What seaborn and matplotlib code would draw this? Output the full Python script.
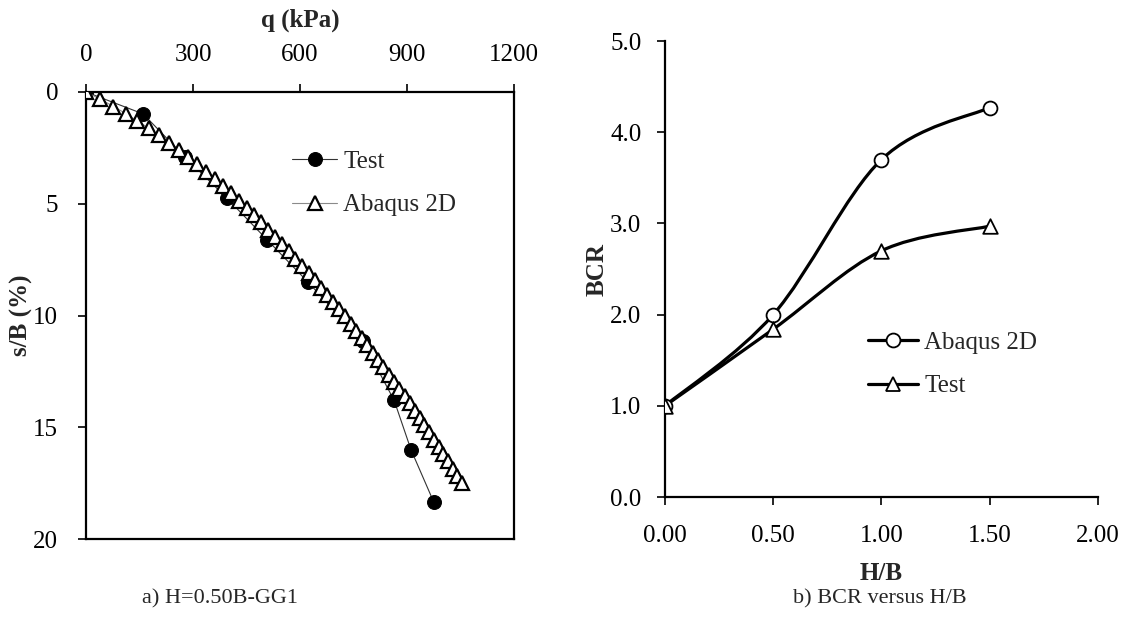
import numpy as np
import pandas as pd
import matplotlib
matplotlib.use("Agg")
import matplotlib.pyplot as plt
from matplotlib.path import Path
from matplotlib.patches import PathPatch
from matplotlib.lines import Line2D
from matplotlib.ticker import FormatStrFormatter
import seaborn as sns

# ---------------- data ----------------
# panel a) load-settlement
test_q = [0, 160, 277, 395, 507, 622, 776, 864, 911, 975]
test_s = [0, 0.98, 2.90, 4.75, 6.60, 8.50, 11.15, 13.80, 16.00, 18.35]

abaqus_q = [0, 40, 77, 112, 144, 176, 205, 233, 261, 287, 312, 337, 361, 384,
            406, 428, 450, 471, 491, 511, 531, 550, 569, 587, 606, 624, 641,
            659, 676, 692, 709, 725, 742, 758, 773, 789, 804, 819, 834, 849,
            864, 878, 893, 907, 921, 935, 948, 962, 975, 989, 1002, 1015,
            1028, 1041, 1054]
abaqus_s = [0.00, 0.32, 0.65, 0.97, 1.30, 1.62, 1.94, 2.27, 2.59, 2.92, 3.24,
            3.56, 3.89, 4.21, 4.54, 4.86, 5.18, 5.51, 5.83, 6.16, 6.48, 6.80,
            7.13, 7.45, 7.78, 8.10, 8.42, 8.75, 9.07, 9.40, 9.72, 10.04, 10.37,
            10.69, 11.02, 11.34, 11.66, 11.99, 12.31, 12.64, 12.96, 13.28,
            13.61, 13.93, 14.26, 14.58, 14.90, 15.23, 15.55, 15.88, 16.20,
            16.52, 16.85, 17.17, 17.50]

# panel b) BCR versus H/B
hb = [0.0, 0.5, 1.0, 1.5]
bcr_abaqus = [1.00, 2.00, 3.70, 4.27]
bcr_test = [1.00, 1.84, 2.70, 2.97]

q_ticks = [0, 300, 600, 900, 1200]
s_ticks = [0, 5, 10, 15, 20]
hb_ticks = [0.0, 0.5, 1.0, 1.5, 2.0]
bcr_ticks = [0.0, 1.0, 2.0, 3.0, 4.0, 5.0]

# ---------------- style ----------------
sns.set_theme(style="white")
plt.rcParams['font.family'] = ['Liberation Serif', 'DejaVu Serif']
FS = 18
CAP = 16

fig = plt.figure(figsize=(11.26, 6.25), dpi=100)
fig.patch.set_facecolor('white')

# ---------------- panel a ----------------
ax1 = fig.add_axes([0.0764, 0.1376, 0.3801, 0.7152])
df_t = pd.DataFrame({'q': test_q, 's': test_s})
df_a = pd.DataFrame({'q': abaqus_q, 's': abaqus_s})
sns.lineplot(data=df_t, x='q', y='s', sort=False, estimator=None, ax=ax1,
             color='#333333', linewidth=0.8, marker='o', markersize=10,
             markerfacecolor='black', markeredgecolor='black', label='Test',
             zorder=3)
sns.lineplot(data=df_a, x='q', y='s', sort=False, estimator=None, ax=ax1,
             color='#8a8a8a', linewidth=0.8, marker='^', markersize=9.5,
             markerfacecolor='white', markeredgecolor='black',
             markeredgewidth=1.6, label='Abaqus 2D', zorder=4)
ax1.set_xlim(0, 1200)
ax1.set_ylim(20, 0)
ax1.set_xticks(q_ticks)
ax1.set_yticks(s_ticks)
ax1.xaxis.tick_top()
ax1.xaxis.set_label_position('top')
ax1.set_xlabel('q (kPa)', fontsize=FS, fontweight='bold', labelpad=12.5)
ax1.set_ylabel('s/B (%)', fontsize=FS, fontweight='bold')
ax1.yaxis.set_label_coords(-0.124, 0.5)
ax1.tick_params(axis='both', which='major', direction='out', length=6,
                width=1.2, labelsize=FS, colors='black')
ax1.tick_params(axis='x', top=True, bottom=False, pad=13)
ax1.tick_params(axis='y', left=True, right=False, pad=14)
for sp in ax1.spines.values():
    sp.set_visible(True)
    sp.set_color('black')
    sp.set_linewidth(1.6)
ax1.grid(False)
leg1 = ax1.legend(loc='upper left', bbox_to_anchor=(292 / 1126, 1 - 150 / 625),
                  bbox_transform=fig.transFigure, frameon=False, fontsize=FS,
                  handlelength=1.8, handletextpad=0.25, labelspacing=0.85,
                  borderpad=0, borderaxespad=0)
for ln in leg1.get_lines():
    ln.set_linewidth(0.8)

# ---------------- panel b ----------------
ax2 = fig.add_axes([0.5906, 0.2048, 0.3845, 0.7296])


def smooth_path(xs, ys):
    pts = list(zip(xs, ys))
    n = len(pts)
    verts = [pts[0]]
    codes = [Path.MOVETO]
    for i in range(n - 1):
        p0 = pts[i - 1] if i > 0 else pts[i]
        p1 = pts[i]
        p2 = pts[i + 1]
        p3 = pts[i + 2] if i + 2 < n else pts[i + 1]
        c1 = (p1[0] + (p2[0] - p0[0]) / 6.0, p1[1] + (p2[1] - p0[1]) / 6.0)
        c2 = (p2[0] - (p3[0] - p1[0]) / 6.0, p2[1] - (p3[1] - p1[1]) / 6.0)
        verts += [c1, c2, p2]
        codes += [Path.CURVE4, Path.CURVE4, Path.CURVE4]
    return Path(verts, codes)


for yy in (bcr_abaqus, bcr_test):
    ax2.add_patch(PathPatch(smooth_path(hb, yy), facecolor='none',
                            edgecolor='black', linewidth=2.3, zorder=2,
                            capstyle='round'))

sns.scatterplot(x=hb, y=bcr_abaqus, ax=ax2, marker='o', s=100,
                facecolor='white', edgecolor='black', linewidth=1.3, zorder=4)
sns.scatterplot(x=hb, y=bcr_test, ax=ax2, marker='^', s=110,
                facecolor='white', edgecolor='black', linewidth=1.3, zorder=5)

ax2.set_xlim(0, 2.0)
ax2.set_ylim(0, 5.0)
ax2.set_xticks(hb_ticks)
ax2.set_yticks(bcr_ticks)
ax2.xaxis.set_major_formatter(FormatStrFormatter('%.2f'))
ax2.yaxis.set_major_formatter(FormatStrFormatter('%.1f'))
ax2.set_xlabel('H/B', fontsize=FS, fontweight='bold', labelpad=11)
ax2.set_ylabel('BCR', fontsize=FS, fontweight='bold', labelpad=1)
ax2.tick_params(axis='both', which='major', direction='out', length=6,
                width=1.2, labelsize=FS, colors='black')
ax2.tick_params(axis='x', bottom=True, top=False, pad=14)
ax2.tick_params(axis='y', left=True, right=False, pad=11)
for side in ('top', 'right'):
    ax2.spines[side].set_visible(False)
for side in ('left', 'bottom'):
    ax2.spines[side].set_color('black')
    ax2.spines[side].set_linewidth(1.6)
ax2.grid(False)

handles = [Line2D([0], [0], color='black', linewidth=2.3, marker='o',
                  markersize=10, markerfacecolor='white',
                  markeredgecolor='black', markeredgewidth=1.3),
           Line2D([0], [0], color='black', linewidth=2.3, marker='^',
                  markersize=10, markerfacecolor='white',
                  markeredgecolor='black', markeredgewidth=1.3)]
ax2.legend(handles, ['Abaqus 2D', 'Test'], loc='upper left',
           bbox_to_anchor=(868 / 1126, 1 - 331 / 625),
           bbox_transform=fig.transFigure, frameon=False, fontsize=FS,
           handlelength=2.0, handletextpad=0.25, labelspacing=0.85,
           borderpad=0, borderaxespad=0)

# ---------------- captions ----------------
fig.text(220 / 1126, 1 - 599 / 625, 'a) H=0.50B-GG1', fontsize=CAP,
         ha='center', va='center')
fig.text(880 / 1126, 1 - 599 / 625, 'b) BCR versus H/B', fontsize=CAP,
         ha='center', va='center')

fig.savefig('out.png', dpi=100, facecolor='white')
